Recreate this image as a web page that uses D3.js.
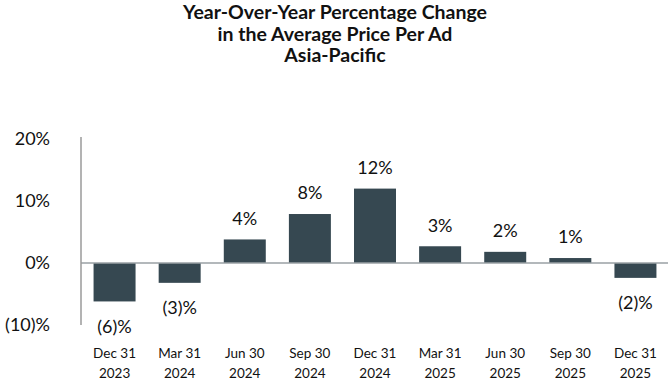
<!DOCTYPE html>
<html>
<head>
<meta charset="utf-8">
<script src="https://cdn.jsdelivr.net/npm/d3@7"></script>
<style>
  body { margin: 0; background: #fff; }
  text { font-family: Lato, "Open Sans", sans-serif; fill: #111; }
</style>
</head>
<body>
<svg id="chart"></svg>
<script>
const width = 672;
const height = 384;

const titleLines = ['Year-Over-Year Percentage Change', 'in the Average Price Per Ad', 'Asia-Pacific'];
const quarters = ['Dec 31', 'Mar 31', 'Jun 30', 'Sep 30', 'Dec 31', 'Mar 31', 'Jun 30', 'Sep 30', 'Dec 31'];
const years = ['2023', '2024', '2024', '2024', '2024', '2025', '2025', '2025', '2025'];
const values = [-6.2, -3.2, 3.8, 7.9, 12.0, 2.7, 1.8, 0.8, -2.4];
const labels = ['(6)%', '(3)%', '4%', '8%', '12%', '3%', '2%', '1%', '(2)%'];
const yTicks = [-10, 0, 10, 20];

const svg = d3.select('#chart')
    .attr('width', width)
    .attr('height', height);

// title
svg.append('g')
    .selectAll('text')
    .data(titleLines)
    .join('text')
      .attr('x', 335)
      .attr('y', (d, i) => 19 + i * 21.5)
      .attr('text-anchor', 'middle')
      .style('font-weight', 'bold')
      .style('font-size', '19.5px')
      .text(d => d);

const x = d3.scaleBand()
    .domain(d3.range(values.length))
    .range([82, 668])
    .paddingInner(0.355)
    .paddingOuter(0.1775);

const y = d3.scaleLinear()
    .domain([-10, 20])
    .range([325, 139]);

// y tick labels (no tick marks)
svg.append('g')
    .selectAll('text')
    .data(yTicks)
    .join('text')
      .attr('x', 50)
      .attr('y', d => y(d))
      .attr('dy', '0.35em')
      .attr('text-anchor', 'end')
      .style('font-size', '18px')
      .text(d => d < 0 ? `(${-d})%` : `${d}%`);

// bars
svg.append('g')
    .selectAll('rect')
    .data(values)
    .join('rect')
      .attr('x', (d, i) => x(i))
      .attr('width', x.bandwidth())
      .attr('y', d => y(Math.max(0, d)))
      .attr('height', d => Math.abs(y(d) - y(0)))
      .attr('fill', '#364851');

// zero line and y axis line
svg.append('line')
    .attr('x1', 81).attr('x2', 668)
    .attr('y1', y(0)).attr('y2', y(0))
    .attr('stroke', '#9aa0a4')
    .attr('stroke-width', 1.5);

svg.append('line')
    .attr('x1', 81).attr('x2', 81)
    .attr('y1', 137).attr('y2', 325)
    .attr('stroke', '#9a9a9a')
    .attr('stroke-width', 1.5);

// value labels
svg.append('g')
    .selectAll('text')
    .data(values)
    .join('text')
      .attr('x', (d, i) => x(i) + x.bandwidth() / 2)
      .attr('y', d => d >= 0 ? y(d) - 21 : y(d) + 25)
      .attr('dy', '0.35em')
      .attr('text-anchor', 'middle')
      .style('font-size', '18px')
      .text((d, i) => labels[i]);

// x category labels
const xl = svg.append('g')
    .selectAll('text')
    .data(quarters)
    .join('text')
      .attr('text-anchor', 'middle')
      .style('font-size', '13.5px');

xl.append('tspan')
    .attr('x', (d, i) => x(i) + x.bandwidth() / 2)
    .attr('y', 358)
    .text(d => d);

xl.append('tspan')
    .attr('x', (d, i) => x(i) + x.bandwidth() / 2)
    .attr('y', 378)
    .text((d, i) => years[i]);
</script>
</body>
</html>
